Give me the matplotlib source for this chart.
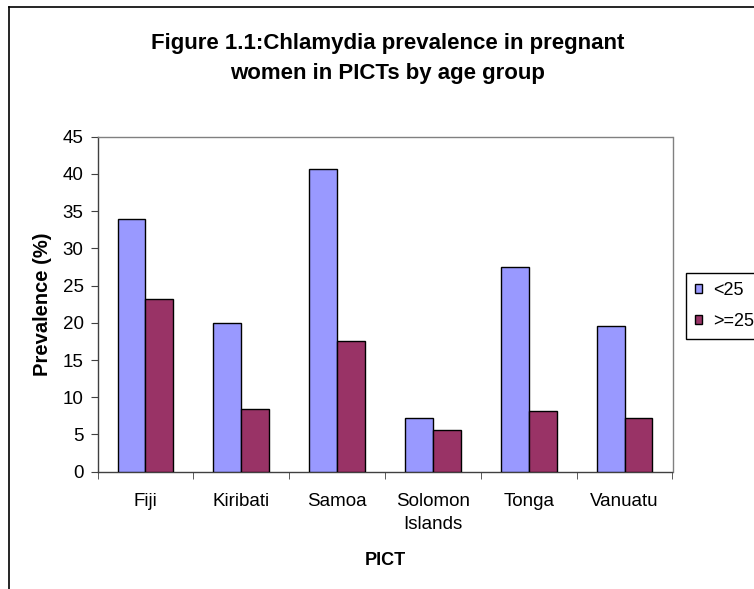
import matplotlib
matplotlib.use("Agg")
import matplotlib.pyplot as plt
import numpy as np
from matplotlib.lines import Line2D
from matplotlib.patches import Patch

plt.rcParams['font.family'] = ['Liberation Sans', 'DejaVu Sans']

categories = ["Fiji", "Kiribati", "Samoa", "Solomon\nIslands", "Tonga", "Vanuatu"]
under25 = [33.9, 20.0, 40.7, 7.2, 27.5, 19.6]
over25 = [23.2, 8.4, 17.5, 5.6, 8.2, 7.2]
series_names = ["<25", ">=25"]
colors = ["#9999FF", "#993366"]
title_lines = ["Figure 1.1:Chlamydia prevalence in pregnant", "women in PICTs by age group"]

W, H = 754, 589
fig = plt.figure(figsize=(W / 100, H / 100), dpi=100)
L, R, T, B = 97.5, 672.5, 136.7, 471.7
ax = fig.add_axes([L / W, 1 - B / H, (R - L) / W, (B - T) / H])

x = np.arange(len(categories))
bw = 0.29
ax.bar(x - bw / 2, under25, bw, color=colors[0], edgecolor="black", linewidth=1.0, zorder=3)
ax.bar(x + bw / 2, over25, bw, color=colors[1], edgecolor="black", linewidth=1.0, zorder=3)

ax.set_xlim(-0.5, len(categories) - 0.5)
ax.set_ylim(0, 45)
ax.set_yticks(np.arange(0, 46, 5))
ax.set_xticks(x)
ax.set_xticklabels(categories, fontsize=13.5, linespacing=1.5)
ax.set_xticks(np.arange(-0.5, len(categories), 1), minor=True)
ax.tick_params(axis="x", which="major", length=0, pad=15)
ax.tick_params(axis="x", which="minor", length=5, direction="out", color="#404040")
ax.tick_params(axis="y", length=5, direction="out", labelsize=13.5, color="#404040", pad=5)

for s in ["top", "right"]:
    ax.spines[s].set_color("#808080")
for s in ["left", "bottom"]:
    ax.spines[s].set_color("#404040")
for s in ax.spines.values():
    s.set_linewidth(1.0)

ax.set_ylabel("Prevalence (%)", fontsize=14.5, fontweight="bold")
ax.yaxis.set_label_coords((52 - L) / (R - L), 0.5)
ax.set_xlabel("PICT", fontsize=13, fontweight="bold")
ax.xaxis.set_label_coords(0.5, (B - 552) / (B - T))

fig.text(388 / W, 1 - 49 / H, title_lines[0], ha="center", va="baseline", fontsize=16, fontweight="bold")
fig.text(388 / W, 1 - 79 / H, title_lines[1], ha="center", va="baseline", fontsize=16, fontweight="bold")

handles = [Patch(facecolor=colors[0], edgecolor="black", linewidth=1.0),
           Patch(facecolor=colors[1], edgecolor="black", linewidth=1.0)]
leg = fig.legend(handles, series_names, loc="upper left",
                 bbox_to_anchor=(686 / W, 1 - 273 / H), fontsize=13,
                 handlelength=0.4, handleheight=0.4, handletextpad=0.6,
                 labelspacing=0.75, borderpad=0.5, borderaxespad=0, fancybox=False, framealpha=1)
leg.get_frame().set_edgecolor("black")
leg.get_frame().set_linewidth(1.0)

fig.add_artist(Line2D([9 / W, 9 / W], [0, 1 - 7 / H], transform=fig.transFigure, color="black", linewidth=1.2))
fig.add_artist(Line2D([9 / W, 1], [1 - 7 / H, 1 - 7 / H], transform=fig.transFigure, color="black", linewidth=1.2))

fig.savefig("out.png", dpi=100)
